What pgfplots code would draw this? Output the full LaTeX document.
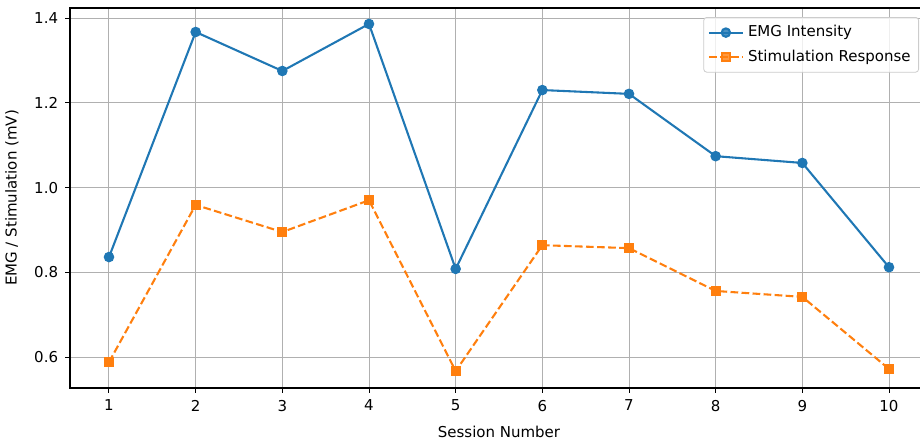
\documentclass[border=0pt]{standalone}
\usepackage{pgfplots}
\pgfplotsset{compat=1.18}
\usepackage{fontspec}
\setmainfont{DejaVu Sans}

\definecolor{mplblue}{HTML}{1F77B4}
\definecolor{mplorange}{HTML}{FF7F0E}
\definecolor{mplgrid}{HTML}{B0B0B0}

\begin{document}
\begin{tikzpicture}
\begin{axis}[
    name=ax,
    scale only axis,
    width=429pt, height=190pt,
    xmin=0.55, xmax=10.45,
    ymin=0.527, ymax=1.4236,
    xtick={1,2,...,10},
    ytick={0.6,0.8,1.0,1.2,1.4},
    yticklabel style={/pgf/number format/fixed, /pgf/number format/fixed zerofill, /pgf/number format/precision=1},
    /pgf/number format/assume math mode=true,
    font=\fontsize{7.5}{9}\selectfont,
    tick align=outside,
    tick pos=left,
    major tick length=2.43pt,
    tick style={black, line width=0.5pt},
    axis line style={black, line width=0.55pt},
    grid=major,
    major grid style={mplgrid, line width=0.5pt},
    xlabel={Session Number},
    ylabel={EMG / Stimulation (mV)},
    xlabel style={at={(axis description cs:0.5,0)}, anchor=center, yshift=-22pt},
    ylabel style={at={(axis description cs:0,0.5)}, anchor=center, yshift=29pt},
    legend cell align=left,
    legend style={at={(rel axis cs:1,1)}, anchor=north east, xshift=-4.5pt, yshift=-4.5pt,
        draw=gray!40, rounded corners=1.5pt, fill=white, fill opacity=0.8, text opacity=1,
        font=\fontsize{7.5}{9}\selectfont, row sep=1pt, inner sep=2pt},
    legend image code/.code={
        \draw[mark repeat=2,mark phase=2] plot coordinates {(0cm,0cm) (0.3cm,0cm) (0.6cm,0cm)};
    },
]
\addplot[mplblue, line width=1.04pt, mark=*, mark size=2.1pt, mark options={solid}]
    coordinates {(1,0.836) (2,1.367) (3,1.275) (4,1.386) (5,0.808) (6,1.230) (7,1.221) (8,1.074) (9,1.058) (10,0.812)};
\addlegendentry{EMG Intensity}
\addplot[mplorange, line width=1.04pt, dash pattern=on 3.85pt off 1.67pt, mark=square*, mark size=1.9pt, mark options={solid}]
    coordinates {(1,0.588) (2,0.959) (3,0.895) (4,0.970) (5,0.567) (6,0.864) (7,0.857) (8,0.756) (9,0.742) (10,0.572)};
\addlegendentry{Stimulation Response}
\coordinate (sw) at (rel axis cs:0,0);
\coordinate (ne) at (rel axis cs:1,1);
\end{axis}
\pgfresetboundingbox
\path[use as bounding box] ([xshift=-35pt,yshift=-26.5pt]sw) rectangle ([xshift=-4pt,yshift=4pt]ne);
\end{tikzpicture}
\end{document}
